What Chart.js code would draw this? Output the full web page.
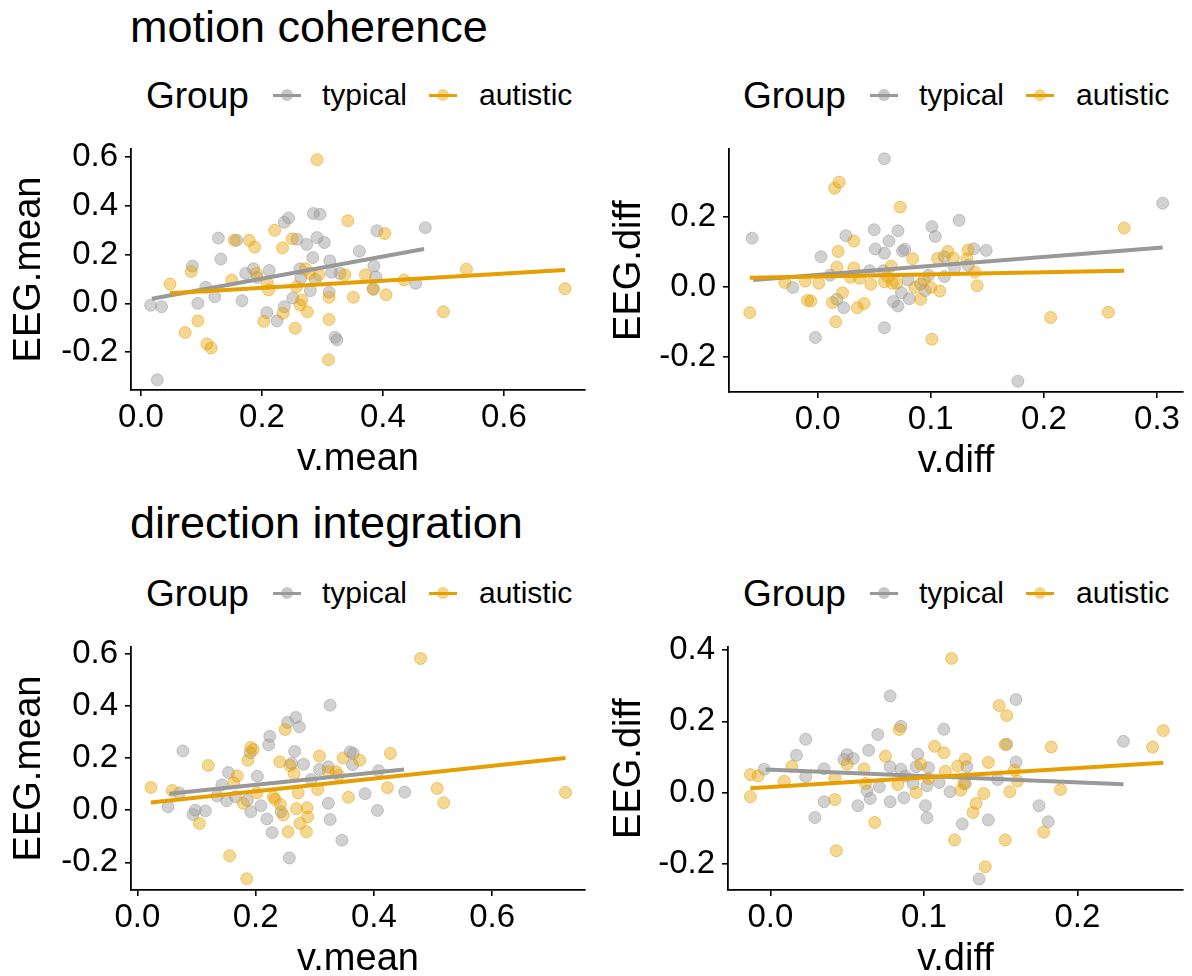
<!DOCTYPE html>
<html>
<head>
<meta charset="utf-8">
<script src="https://cdn.jsdelivr.net/npm/chart.js@4.4.1/dist/chart.umd.min.js"></script>
<style>
  html, body { margin: 0; padding: 0; background: #fff; }
  body { width: 1192px; height: 976px; position: relative; overflow: hidden;
         font-family: 'Liberation Sans', Arial, sans-serif; color: #000; }
  .title { position: absolute; left: 130px; font-size: 45px; line-height: 45px; white-space: nowrap; }
  .lg { position: absolute; white-space: nowrap; line-height: 1; }
  .key { position: absolute; width: 28px; height: 3px; }
  .key .dot { position: absolute; left: 8px; top: -5px; width: 12px; height: 12px; border-radius: 50%; }
  canvas { position: absolute; }
</style>
</head>
<body>
<script>
// Labels
const groups = ['typical', 'autistic'];
const panelTitles = ['motion coherence', 'direction integration'];
const xTitles = ['v.mean', 'v.diff'];
const yTitles = ['EEG.mean', 'EEG.diff'];

// motion coherence: v.mean vs EEG.mean
const mcMeanTypical = [[0.016,-0.008],[0.034,-0.014],[0.027,-0.314],[0.085,0.153],[0.094,0.0],[0.107,0.066],[0.122,0.027],[0.128,0.268],[0.132,0.182],[0.158,0.259],[0.167,0.011],[0.173,0.123],[0.186,0.142],[0.192,0.106],[0.208,-0.038],[0.212,0.135],[0.225,-0.072],[0.237,0.333],[0.244,0.351],[0.237,-0.014],[0.251,0.022],[0.258,0.263],[0.263,0.142],[0.264,0.104],[0.274,0.242],[0.280,0.052],[0.284,0.188],[0.285,0.369],[0.296,0.366],[0.291,0.270],[0.303,0.250],[0.288,0.098],[0.312,0.175],[0.315,0.128],[0.311,0.046],[0.321,-0.139],[0.324,-0.150],[0.329,0.123],[0.361,0.214],[0.385,0.153],[0.390,0.298],[0.388,0.109],[0.384,0.061],[0.454,0.082],[0.470,0.311]];
const mcMeanAutistic = [[0.048,0.079],[0.073,-0.120],[0.083,0.131],[0.094,-0.072],[0.109,-0.167],[0.116,-0.183],[0.150,0.096],[0.154,0.259],[0.179,0.259],[0.188,0.231],[0.191,0.123],[0.203,-0.074],[0.209,0.082],[0.211,0.055],[0.221,0.300],[0.234,0.228],[0.235,-0.041],[0.250,0.265],[0.255,-0.102],[0.257,0.068],[0.263,-0.007],[0.266,0.014],[0.272,0.142],[0.275,-0.035],[0.291,0.590],[0.294,0.117],[0.279,0.123],[0.310,-0.232],[0.311,0.025],[0.311,-0.066],[0.337,0.117],[0.342,0.339],[0.351,0.025],[0.371,0.117],[0.384,0.057],[0.403,0.287],[0.405,0.035],[0.435,0.096],[0.500,-0.035],[0.538,0.140],[0.701,0.060]];
const mcMeanTypicalFit = [[0.018,0.019],[0.468,0.223]];
const mcMeanAutisticFit = [[0.048,0.041],[0.701,0.137]];

// motion coherence: v.diff vs EEG.diff
const mcDiffTypical = [[-0.058,0.139],[-0.022,-0.002],[0.003,0.086],[0.011,0.033],[0.017,-0.036],[0.023,-0.060],[0.025,0.146],[-0.002,-0.145],[0.050,0.163],[0.051,0.108],[0.059,0.096],[0.059,0.366],[0.063,0.131],[0.059,-0.117],[0.067,-0.042],[0.071,0.160],[0.071,-0.055],[0.074,-0.017],[0.075,0.102],[0.077,0.107],[0.081,-0.034],[0.080,0.019],[0.046,0.046],[0.058,0.046],[0.091,0.008],[0.095,-0.011],[0.098,0.033],[0.101,0.172],[0.104,0.144],[0.112,0.086],[0.112,0.029],[0.121,0.053],[0.125,0.190],[0.133,0.061],[0.138,0.109],[0.149,0.104],[0.305,0.239],[0.177,-0.270]];
const mcDiffAutistic = [[-0.060,-0.074],[-0.029,0.012],[-0.011,0.016],[-0.009,-0.039],[-0.006,-0.041],[0.001,0.010],[0.013,-0.045],[0.016,-0.100],[0.015,0.282],[0.019,0.299],[0.017,0.056],[0.018,0.101],[0.022,-0.017],[0.029,0.027],[0.032,0.131],[0.032,0.054],[0.035,-0.060],[0.037,0.024],[0.041,-0.048],[0.047,0.007],[0.059,0.014],[0.062,0.029],[0.065,0.059],[0.066,0.010],[0.070,0.010],[0.073,0.228],[0.084,0.080],[0.086,-0.002],[0.091,-0.036],[0.094,0.019],[0.100,-0.002],[0.101,-0.150],[0.106,0.081],[0.108,-0.012],[0.115,0.101],[0.120,0.082],[0.132,0.080],[0.133,0.105],[0.139,0.042],[0.141,0.003],[0.271,0.168],[0.206,-0.088],[0.257,-0.073]];
const mcDiffTypicalFit = [[-0.057,0.019],[0.305,0.112]];
const mcDiffAutisticFit = [[-0.060,0.026],[0.271,0.046]];

// direction integration: v.mean vs EEG.mean
const diMeanTypical = [[0.052,0.013],[0.077,0.227],[0.071,0.066],[0.094,-0.017],[0.098,0.0],[0.115,-0.003],[0.135,0.054],[0.143,0.097],[0.151,0.036],[0.154,0.144],[0.166,0.051],[0.186,0.038],[0.191,0.220],[0.192,-0.006],[0.203,0.130],[0.209,0.017],[0.219,-0.034],[0.222,0.250],[0.224,0.283],[0.228,-0.086],[0.243,-0.006],[0.254,0.336],[0.257,-0.183],[0.261,0.179],[0.266,0.225],[0.268,0.355],[0.274,0.319],[0.281,0.176],[0.294,0.117],[0.308,0.156],[0.323,0.166],[0.323,0.026],[0.326,0.402],[0.326,-0.036],[0.346,-0.115],[0.360,0.223],[0.365,0.217],[0.364,0.174],[0.385,0.063],[0.406,-0.001],[0.408,0.151],[0.452,0.069]];
const diMeanAutistic = [[0.023,0.087],[0.059,0.075],[0.105,-0.051],[0.120,0.171],[0.156,-0.175],[0.163,0.105],[0.169,0.131],[0.179,0.026],[0.185,-0.263],[0.187,0.191],[0.192,0.240],[0.196,0.232],[0.202,0.066],[0.230,0.051],[0.233,0.041],[0.241,0.185],[0.242,0.022],[0.247,-0.019],[0.250,0.309],[0.255,-0.083],[0.258,0.171],[0.265,0.140],[0.269,0.005],[0.272,0.066],[0.275,-0.051],[0.286,-0.083],[0.287,0.009],[0.288,-0.026],[0.305,0.079],[0.308,0.207],[0.323,0.147],[0.336,0.147],[0.340,0.134],[0.348,0.200],[0.357,0.049],[0.376,0.191],[0.423,0.086],[0.428,0.217],[0.479,0.581],[0.507,0.083],[0.518,0.028],[0.724,0.068]];
const diMeanTypicalFit = [[0.054,0.063],[0.451,0.156]];
const diMeanAutisticFit = [[0.023,0.029],[0.724,0.200]];

// direction integration: v.diff vs EEG.diff
const diDiffTypical = [[-0.004,0.066],[0.017,0.105],[0.023,0.150],[0.023,0.045],[0.029,-0.069],[0.035,0.067],[0.035,-0.025],[0.048,0.093],[0.050,0.107],[0.054,0.096],[0.057,-0.036],[0.063,0.005],[0.064,0.119],[0.065,-0.016],[0.070,0.163],[0.071,0.017],[0.078,0.271],[0.078,0.073],[0.078,-0.025],[0.085,0.186],[0.085,0.066],[0.087,-0.014],[0.088,0.047],[0.093,0.026],[0.095,0.073],[0.096,0.108],[0.101,-0.036],[0.102,-0.070],[0.102,0.020],[0.103,0.070],[0.110,0.029],[0.113,0.178],[0.117,0.003],[0.125,-0.087],[0.127,0.026],[0.128,0.073],[0.136,-0.241],[0.142,-0.076],[0.148,0.037],[0.160,0.261],[0.154,0.136],[0.160,0.086],[0.175,-0.036],[0.181,-0.081],[0.230,0.144]];
const diDiffAutistic = [[-0.013,0.051],[-0.013,-0.011],[-0.008,0.047],[0.009,0.032],[0.014,0.074],[0.042,0.042],[0.042,-0.019],[0.043,-0.162],[0.050,0.080],[0.061,0.067],[0.062,0.026],[0.068,-0.083],[0.075,0.102],[0.083,0.023],[0.084,0.177],[0.095,0.001],[0.098,0.080],[0.103,0.040],[0.107,0.130],[0.113,0.112],[0.114,0.060],[0.118,0.376],[0.120,-0.132],[0.122,0.075],[0.124,0.007],[0.126,0.026],[0.127,0.094],[0.132,-0.055],[0.134,-0.030],[0.139,-0.002],[0.140,-0.207],[0.142,0.085],[0.149,0.244],[0.154,0.216],[0.153,0.135],[0.159,0.063],[0.161,0.033],[0.156,0.003],[0.153,-0.132],[0.178,-0.110],[0.183,0.128],[0.189,0.009],[0.249,0.128],[0.256,0.174]];
const diDiffTypicalFit = [[-0.003,0.065],[0.230,0.024]];
const diDiffAutisticFit = [[-0.013,0.013],[0.256,0.084]];

const GRAY = '#999999';
const ORANGE = '#E69F00';
const FONT = "'Liberation Sans', Arial, sans-serif";

// canvas box and plot area (page pixels) for each panel
const panels = [
    { typ: mcMeanTypical, aut: mcMeanAutistic, typFit: mcMeanTypicalFit, autFit: mcMeanAutisticFit,
      xTitle: xTitles[0], yTitle: yTitles[0], x: [-0.0165, 0.734], y: [-0.356, 0.634], xStep: 0.2, yStep: 0.2,
      box: { left: 0, top: 110, width: 600, height: 376 }, area: { left: 131, top: 149, right: 585, bottom: 390 } },
    { typ: mcDiffTypical, aut: mcDiffAutistic, typFit: mcDiffTypicalFit, autFit: mcDiffAutisticFit,
      xTitle: xTitles[1], yTitle: yTitles[1], x: [-0.0784, 0.323], y: [-0.301, 0.394], xStep: 0.1, yStep: 0.2,
      box: { left: 600, top: 110, width: 592, height: 378 }, area: { left: 729, top: 149, right: 1183, bottom: 392 } },
    { typ: diMeanTypical, aut: diMeanAutistic, typFit: diMeanTypicalFit, autFit: diMeanAutisticFit,
      xTitle: xTitles[0], yTitle: yTitles[0], x: [-0.0107, 0.757], y: [-0.306, 0.625], xStep: 0.2, yStep: 0.2,
      box: { left: 0, top: 606, width: 600, height: 380 }, area: { left: 131, top: 647, right: 585, bottom: 890 } },
    { typ: diDiffTypical, aut: diDiffAutistic, typFit: diDiffTypicalFit, autFit: diDiffAutisticFit,
      xTitle: xTitles[1], yTitle: yTitles[1], x: [-0.0276, 0.2688], y: [-0.272, 0.408], xStep: 0.1, yStep: 0.2,
      box: { left: 600, top: 606, width: 592, height: 380 }, area: { left: 728, top: 647, right: 1183, bottom: 890 } },
];

function toPoints(pairs) {
    return pairs.map(p => ({ x: p[0], y: p[1] }));
}

function fmt(v) {
    if (Math.abs(v) < 1e-9) return '0.0';
    return v.toFixed(1);
}

function addText(cls, text, left, top, size) {
    const el = document.createElement('div');
    el.className = cls;
    el.textContent = text;
    el.style.left = left + 'px';
    el.style.top = top + 'px';
    if (size) el.style.fontSize = size + 'px';
    document.body.appendChild(el);
    return el;
}

function addKey(left, centerY, color, dotColor) {
    const el = document.createElement('div');
    el.className = 'key';
    el.style.left = left + 'px';
    el.style.top = (centerY - 1.5) + 'px';
    el.style.background = color;
    const dot = document.createElement('div');
    dot.className = 'dot';
    dot.style.background = dotColor;
    el.appendChild(dot);
    document.body.appendChild(el);
}

// Titles
addText('title', panelTitles[0], 130, 4);
addText('title', panelTitles[1], 130, 500);

// Legends (one per panel)
[[0, 95], [597, 95], [0, 593], [597, 593]].forEach(([dx, cy]) => {
    addText('lg', 'Group', 146 + dx, cy - 18.5, 37);
    addKey(273 + dx, cy, GRAY, 'rgba(153,153,153,0.55)');
    addText('lg', groups[0], 322 + dx, cy - 15, 30);
    addKey(429 + dx, cy, ORANGE, 'rgba(230,159,0,0.45)');
    addText('lg', groups[1], 479 + dx, cy - 15, 30);
});

panels.forEach(p => {
    const canvas = document.createElement('canvas');
    canvas.width = p.box.width;
    canvas.height = p.box.height;
    canvas.style.left = p.box.left + 'px';
    canvas.style.top = p.box.top + 'px';
    document.body.appendChild(canvas);

    const yWidth = p.area.left - p.box.left;
    const xHeight = p.box.top + p.box.height - p.area.bottom;

    const axisCommon = {
        type: 'linear',
        border: { display: true, color: '#000', width: 1.8 },
        grid: { display: true, drawOnChartArea: false, drawTicks: true, tickLength: 6, color: '#000', lineWidth: 1.6 },
    };

    new Chart(canvas, {
        type: 'scatter',
        data: {
            datasets: [
                { label: groups[1] + ' fit', data: toPoints(p.autFit), showLine: true, borderColor: ORANGE,
                  borderWidth: 4, pointRadius: 0, order: 0 },
                { label: groups[0] + ' fit', data: toPoints(p.typFit), showLine: true, borderColor: GRAY,
                  borderWidth: 4, pointRadius: 0, order: 1 },
                { label: groups[1], data: toPoints(p.aut), pointRadius: 6,
                  backgroundColor: 'rgba(230,159,0,0.42)', borderColor: 'rgba(230,159,0,0.5)', borderWidth: 1, order: 2 },
                { label: groups[0], data: toPoints(p.typ), pointRadius: 6,
                  backgroundColor: 'rgba(153,153,153,0.45)', borderColor: 'rgba(153,153,153,0.5)', borderWidth: 1, order: 3 },
            ],
        },
        options: {
            responsive: false,
            animation: false,
            events: [],
            layout: {
                padding: {
                    left: 0,
                    bottom: 0,
                    top: p.area.top - p.box.top,
                    right: p.box.left + p.box.width - p.area.right,
                },
            },
            plugins: { legend: { display: false }, tooltip: { enabled: false } },
            scales: {
                x: {
                    ...axisCommon,
                    min: p.x[0],
                    max: p.x[1],
                    ticks: { stepSize: p.xStep, includeBounds: false, color: '#000', padding: 2,
                             font: { family: FONT, size: 33 }, callback: v => fmt(v), maxRotation: 0 },
                    title: { display: true, text: p.xTitle, color: '#000', font: { family: FONT, size: 38 },
                             padding: { top: 0, bottom: 4 } },
                    afterFit: s => { s.height = xHeight; },
                },
                y: {
                    ...axisCommon,
                    min: p.y[0],
                    max: p.y[1],
                    ticks: { stepSize: p.yStep, includeBounds: false, color: '#000', padding: 7,
                             font: { family: FONT, size: 33 }, callback: v => fmt(v) },
                    title: { display: true, text: p.yTitle, color: '#000', font: { family: FONT, size: 38 },
                             padding: { top: 7, bottom: 0 } },
                    afterFit: s => { s.width = yWidth; },
                },
            },
        },
    });
});
</script>
</body>
</html>
